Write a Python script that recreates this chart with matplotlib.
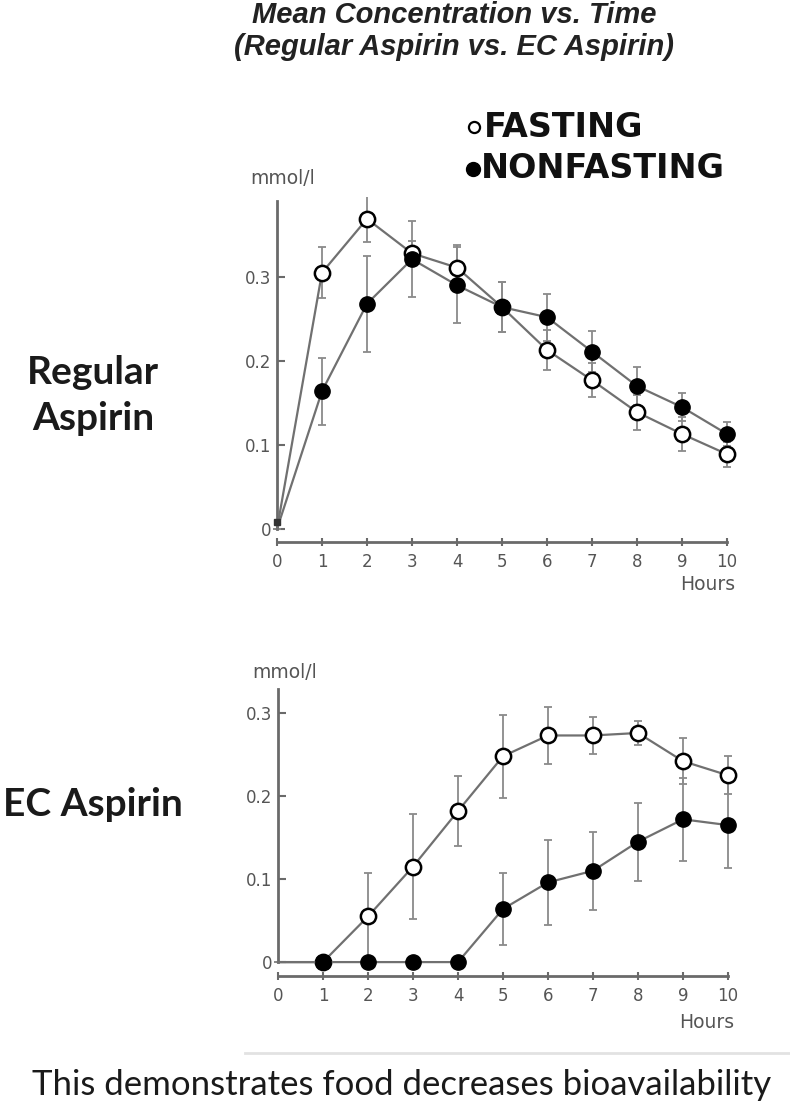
import numpy as np
import matplotlib
matplotlib.use("Agg")
import matplotlib.pyplot as plt
from matplotlib.lines import Line2D

# data (mmol/l vs hours)
hours = [0, 1, 2, 3, 4, 5, 6, 7, 8, 9, 10]

reg_fast = [0, 0.305, 0.369, 0.328, 0.311, 0.264, 0.213, 0.177, 0.139, 0.113, 0.089]
reg_fast_err = [0, 0.030, 0.028, 0.015, 0.027, 0.030, 0.024, 0.020, 0.021, 0.020, 0.015]
reg_nonfast = [0, 0.164, 0.268, 0.321, 0.290, 0.264, 0.252, 0.211, 0.170, 0.145, 0.113]
reg_nonfast_err = [0, 0.040, 0.057, 0.045, 0.045, 0.030, 0.028, 0.024, 0.023, 0.017, 0.014]

ec_fast = [0, 0, 0.055, 0.115, 0.182, 0.248, 0.273, 0.273, 0.276, 0.242, 0.225]
ec_fast_err = [0, 0, 0.052, 0.063, 0.042, 0.050, 0.034, 0.022, 0.014, 0.028, 0.023]
ec_nonfast = [0, 0, 0, 0, 0, 0.064, 0.096, 0.110, 0.145, 0.172, 0.165]
ec_nonfast_err = [0, 0, 0, 0, 0, 0.043, 0.051, 0.047, 0.047, 0.050, 0.052]

y_ticks = [0, 0.1, 0.2, 0.3]
y_ticklabels = ["0", "0.1", "0.2", "0.3"]

W, H = 790, 1111
fig = plt.figure(figsize=(W / 100, H / 100), dpi=100)


def fx(px):
    return px / W


def fy(py):
    return 1 - py / H


LINE = "#707070"
AXC = "#6a6a6a"
TXT = "#555555"


def panel(rect, fast, fast_err, nonfast, nonfast_err, ylim, ytop, xaxis_y, first_mark):
    ax = fig.add_axes(rect)
    ax.set_xlim(-0.2, 10.2)
    ax.set_ylim(*ylim)
    for s in ["top", "right"]:
        ax.spines[s].set_visible(False)
    ax.spines["left"].set_position(("data", 0))
    ax.spines["left"].set_bounds(0, ytop)
    ax.spines["bottom"].set_position(("data", xaxis_y))
    ax.spines["bottom"].set_bounds(0, 10)
    for s in ["left", "bottom"]:
        ax.spines[s].set_color(AXC)
        ax.spines[s].set_linewidth(2)
    ax.set_xticks(hours)
    ax.set_yticks(y_ticks)
    ax.set_yticklabels(y_ticklabels)
    ax.tick_params(axis="y", direction="in", length=6, width=1.5, color=AXC,
                   labelsize=12, labelcolor=TXT, pad=4)
    ax.tick_params(axis="x", direction="inout", length=6, width=1.5, color=AXC,
                   labelsize=12, labelcolor=TXT, pad=5)
    ax.errorbar(hours, fast, yerr=fast_err, fmt="none", ecolor="#8a8a8a",
                elinewidth=1.3, capsize=3, capthick=1.3, zorder=2)
    ax.errorbar(hours, nonfast, yerr=nonfast_err, fmt="none", ecolor="#8a8a8a",
                elinewidth=1.3, capsize=3, capthick=1.3, zorder=2)
    ax.plot(hours, fast, color=LINE, lw=1.6, zorder=3)
    ax.plot(hours[first_mark:], fast[first_mark:], "o", ms=11, mfc="white",
            mec="black", mew=1.8, zorder=4)
    ax.plot(hours, nonfast, color=LINE, lw=1.6, zorder=5)
    ax.plot(hours[first_mark:], nonfast[first_mark:], "o", ms=11, mfc="black",
            mec="black", zorder=6)
    return ax


# top panel: x=0 at px 277, 45 px/h ; y=0 at px 529, 840 px/unit
ax1 = panel([fx(268), fy(550), 468 / W, 353 / H], reg_fast, reg_fast_err,
            reg_nonfast, reg_nonfast_err, (-0.025, 0.395), 0.39, -0.0155, 1)
ax1.plot([0], [0.008], "s", ms=4, color="#333333", zorder=6)

# bottom panel: y=0 at px 962, 830 px/unit
ax2 = panel([fx(269), fy(987), 468 / W, 303 / H], ec_fast, ec_fast_err,
            ec_nonfast, ec_nonfast_err, (-0.03, 0.335), 0.329, -0.017, 1)

# axis captions
fig.text(fx(283), fy(178), "mmol/l", ha="center", va="center", fontsize=13.5, color=TXT)
fig.text(fx(285), fy(673), "mmol/l", ha="center", va="center", fontsize=13.5, color=TXT)
fig.text(fx(708), fy(584), "Hours", ha="center", va="center", fontsize=13.5, color=TXT)
fig.text(fx(707), fy(1023), "Hours", ha="center", va="center", fontsize=13.5, color=TXT)

# title
fig.text(fx(454), fy(15), "Mean Concentration vs. Time", ha="center", va="center",
         fontsize=21, fontweight="bold", fontstyle="italic",
         family="Liberation Sans", color="#222222")
fig.text(fx(454), fy(47), "(Regular Aspirin vs. EC Aspirin)", ha="center", va="center",
         fontsize=21, fontweight="bold", fontstyle="italic",
         family="Liberation Sans", color="#222222")

# legend
fig.add_artist(Line2D([fx(474)], [fy(127)], marker="o", ms=8, mfc="white",
                      mec="black", mew=1.6, transform=fig.transFigure))
fig.add_artist(Line2D([fx(473)], [fy(169)], marker="o", ms=10, mfc="black",
                      mec="black", transform=fig.transFigure))
fig.text(fx(484), fy(127), "FASTING", ha="left", va="center", fontsize=24,
         fontweight="bold", family="DejaVu Sans", color="#111111")
fig.text(fx(481), fy(169), "NONFASTING", ha="left", va="center", fontsize=24,
         fontweight="bold", family="DejaVu Sans", color="#111111")

# row labels
fig.text(fx(93), fy(373), "Regular", ha="center", va="center", fontsize=28,
         fontweight="bold", family="Lato", color="#1a1a1a")
fig.text(fx(93), fy(419), "Aspirin", ha="center", va="center", fontsize=28,
         fontweight="bold", family="Lato", color="#1a1a1a")
fig.text(fx(93), fy(805), "EC Aspirin", ha="center", va="center", fontsize=28,
         fontweight="bold", family="Lato", color="#1a1a1a")

# separator and footnote
fig.add_artist(Line2D([fx(245), fx(790)], [fy(1053), fy(1053)], color="#e2e2e2",
                      lw=2, transform=fig.transFigure))
fig.text(fx(402), fy(1085), "This demonstrates food decreases bioavailability",
         ha="center", va="center", fontsize=25, family="Lato", color="#1a1a1a")

fig.savefig("out.png", dpi=100)
